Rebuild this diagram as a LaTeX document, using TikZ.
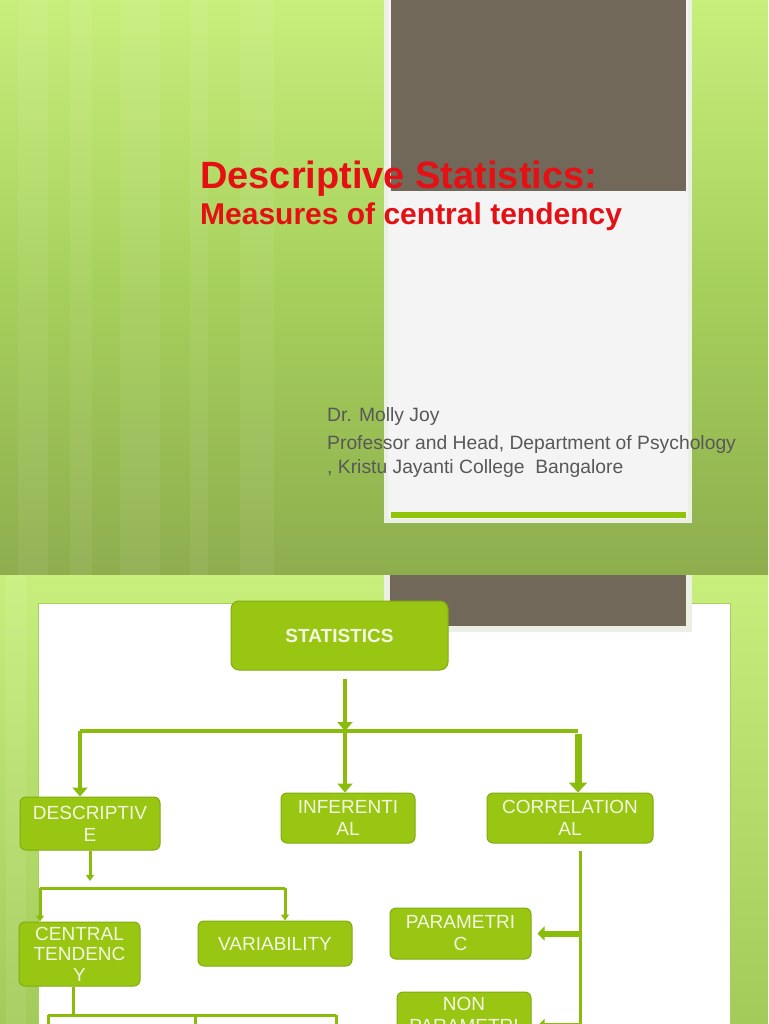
\documentclass[tikz,border=0pt]{standalone}
\usepackage{fontspec}
\setmainfont{Liberation Sans}
\usetikzlibrary{
  arrows.meta,  % Triangle tips
  positioning,
  calc
}
\definecolor{slidelight}{RGB}{200,238,124}
\definecolor{slidemid}{RGB}{166,208,92}
\definecolor{slidedark}{RGB}{142,174,78}
\definecolor{panelrim}{RGB}{236,240,228}
\definecolor{panelbg}{RGB}{244,244,244}
\definecolor{panelbrown}{RGB}{114,104,90}
\definecolor{panelbar}{RGB}{144,196,8}
\definecolor{titlered}{RGB}{228,16,20}
\definecolor{authorgray}{RGB}{88,88,88}
\definecolor{boxfill}{RGB}{152,198,18}
\definecolor{boxedge}{RGB}{128,172,14}
\definecolor{boxtext}{RGB}{244,248,226}
\definecolor{linegreen}{RGB}{138,188,12}
\def\mybox{\fontsize{19}{22}\selectfont}
\def\myauthor{\fontsize{19.3}{22}\selectfont}
\tikzset{
  box/.style={
    draw=boxedge,
    fill=boxfill,
    line width=1pt,
    rounded corners=6pt,
    text=boxtext,
    align=center,
    inner sep=0pt,
    font=\mybox
  },
  bar/.style={draw=linegreen,line width=4pt},
  thin bar/.style={draw=linegreen,line width=3pt},
  flow/.style={bar,-{Triangle[width=15pt,length=9pt]}},
  thin flow/.style={thin bar,-{Triangle[width=8pt,length=6pt]}},
  fat flow/.style={draw=linegreen,line width=7pt,-{Triangle[width=18pt,length=10pt]}},
  side flow/.style={draw=linegreen,line width=6pt,-{Triangle[width=14pt,length=7pt]},shorten >=6pt},
  slide text/.style={anchor=base west,inner sep=0pt}
}

\begin{document}
\begin{tikzpicture}[x=1pt,y=-1pt]
\useasboundingbox (0,0) rectangle (768,1024);
\clip (0,0) rectangle (768,1024);
% first slide
\shade[top color=slidelight,bottom color=slidedark,middle color=slidemid] (0,0) rectangle (768,575);
\foreach \sx/\sw in {18/30,70/22,120/40,190/18,240/34}
  \fill[white,opacity=0.06] (\sx,0) rectangle ++(\sw,575);
\fill[panelrim] (384,0) rectangle (692,523);
\fill[panelbg] (388,0) rectangle (688,519);
\fill[panelbrown] (391,0) rectangle (686,191);
\fill[panelbar] (391,512) rectangle (686,518);
\node[slide text,text=titlered,font=\fontsize{38}{40}\selectfont\bfseries]
  (title) at (200,189) {Descriptive Statistics:};
\node[slide text,text=titlered,font=\fontsize{30}{32}\selectfont\bfseries]
  (subtitle) at (200,225) {Measures of central tendency};
\node[slide text,text=authorgray,font=\myauthor] (author)  at (327,421) {Dr. Molly Joy};
\node[slide text,text=authorgray,font=\myauthor] (role)    at (327,449) {Professor and Head, Department of Psychology};
\node[slide text,text=authorgray,font=\myauthor] (college) at (327,473) {, Kristu Jayanti College\ \ Bangalore};
% second slide
\shade[top color=slidelight,bottom color=slidemid!85!slidedark] (0,575) rectangle (768,1024);
\fill[white,opacity=0.08] (6,575) rectangle (26,1024);
\fill[white,draw=slidemid,line width=0.8pt] (38,603) rectangle (730,1030);
\fill[panelrim] (384,575) rectangle (692,632);
\fill[panelbrown] (390,575) rectangle (686,626);

\node[box,rounded corners=8pt,minimum width=217pt,minimum height=69pt,
      font=\fontsize{19}{22}\selectfont\bfseries] (stat) at (339.5,635.5) {STATISTICS};
\node[box,minimum width=140pt,minimum height=53pt] (desc)     at (90,823.5)  {DESCRIPTIV\\E};
\node[box,minimum width=134pt,minimum height=50pt] (infer)    at (348,818)   {INFERENTI\\AL};
\node[box,minimum width=166pt,minimum height=50pt] (corr)     at (570,818)   {CORRELATION\\AL};
\node[box,minimum width=121pt,minimum height=64pt,
      font=\fontsize{19}{20.5}\selectfont]         (central)  at (79.5,954)  {CENTRAL\\TENDENC\\Y};
\node[box,minimum width=154pt,minimum height=45pt] (var)      at (275,943.5) {VARIABILITY};
\node[box,minimum width=141pt,minimum height=51pt] (param)    at (460.5,933.5) {PARAMETRI\\C};
\node[box,minimum width=134pt,minimum height=68pt] (nonparam) at (464,1026)  {NON\\PARAMETRI\\C};

\coordinate (bus)   at (345,731);
\coordinate (busL)  at (80,731);
\coordinate (busR)  at (578,731);
\coordinate (dtip)  at (90,881);
\coordinate (dbusL) at (40,888);
\coordinate (dbusR) at (285,888);
\coordinate (ctop)  at (580,851);
\coordinate (cend)  at (580,1040);
\coordinate (cbus)  at (73,1015);
\coordinate (cbusL) at (48,1015);
\coordinate (cbusM) at (195,1015);
\coordinate (cbusR) at (336,1015);

\draw[flow,shorten <=8pt] (stat.south -| bus) -- (bus);
\draw[bar] (busL) -- (busR);
\draw[flow] (busL) -- (busL |- desc.north);
\draw[flow] (bus) -- (bus |- infer.north);
\draw[fat flow] ([yshift=-3pt]busR) -- (busR |- corr.north);

\draw[thin flow] (desc.south) -- (dtip);
\draw[thin bar] (dbusL) -- (dbusR);
\draw[thin flow] (dbusL) -- (dbusL |- central.north);
\draw[thin flow] (dbusR) -- (dbusR |- var.north);

\draw[thin bar] (ctop) -- (cend);
\draw[side flow] (ctop |- param.east) -- (param.east);
\draw[side flow] (ctop |- nonparam.east) -- (nonparam.east);

\draw[thin bar] (central.south -| cbus) -- (cbus);
\draw[thin bar] (cbusL) -- (cbusR);
\foreach \c in {cbusL,cbusM,cbusR}
  \draw[thin bar] (\c) -- (\c |- cend);
\end{tikzpicture}
\end{document}
